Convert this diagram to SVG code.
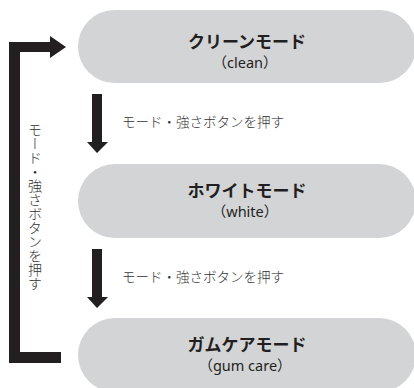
<svg xmlns="http://www.w3.org/2000/svg" width="414" height="388" viewBox="0 0 414 388">
<style>
.pill{fill:#d3d4d6}
.arrow{fill:#231f20}
.title{font-family:"Noto Sans CJK JP","Noto Sans",sans-serif;font-size:17px;font-weight:700;fill:#231f20;text-anchor:middle}
.sub{font-family:"Noto Sans","Noto Sans CJK JP",sans-serif;font-size:14.5px;fill:#231f20;text-anchor:middle}
.lbl{font-family:"Noto Sans CJK JP","Noto Sans",sans-serif;font-size:13.5px;font-weight:300;fill:#333}
</style>
<rect width="414" height="388" fill="#fff"/>
<g id="node-clean">
<rect class="pill" x="78" y="10" width="338" height="73" rx="36.5"/>
<text class="title" x="247" y="47.5">クリーンモード</text>
<text class="sub" x="245" y="68">（clean）</text>
</g>
<g id="node-white">
<rect class="pill" x="78" y="164" width="338" height="74" rx="37"/>
<text class="title" x="247" y="196.5">ホワイトモード</text>
<text class="sub" x="245" y="217">（white）</text>
</g>
<g id="node-gumcare">
<rect class="pill" x="78" y="318" width="338" height="74" rx="37"/>
<text class="title" x="247" y="350.5">ガムケアモード</text>
<text class="sub" x="245" y="371">（gum care）</text>
</g>
<g id="connectors">
<polygon class="arrow" points="92,94 102,94 102,142 108,142 97,153 87,142 92,142"/>
<text class="lbl" x="122" y="127">モード・強さボタンを押す</text>
<polygon class="arrow" points="92,249 102,249 102,297 108,297 97,308 87,297 92,297"/>
<text class="lbl" x="122" y="282">モード・強さボタンを押す</text>
<polygon class="arrow" points="9,42 50,42 50,36 66,47 50,58 50,52 20,52 20,352 61,352 61,363 9,363"/>
<text class="lbl" x="35" y="123" writing-mode="vertical-rl" style="font-size:14px">モード・強さボタンを押す</text>
</g>
</svg>
